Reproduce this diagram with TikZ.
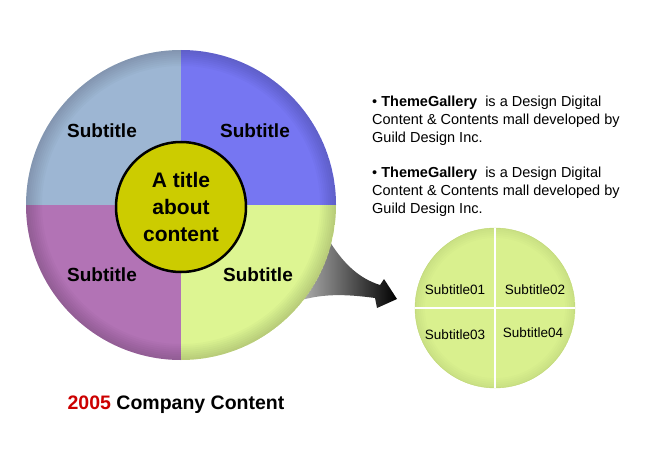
\documentclass[tikz,border=0pt]{standalone}
\usepackage{fontspec}
\setmainfont{Liberation Sans}
\usetikzlibrary{positioning}

\definecolor{SteelQ}{HTML}{9DB6D3}
\definecolor{VioletQ}{HTML}{7676F2}
\definecolor{PurpleQ}{HTML}{B273B5}
\definecolor{LimeQ}{HTML}{DDF592}
\definecolor{LimeS}{HTML}{D9F08E}
\definecolor{LimeEdge}{HTML}{C8E07C}
\definecolor{OliveC}{HTML}{CCCC00}
\definecolor{YearRed}{HTML}{CC0000}

\begin{document}
\begin{tikzpicture}[x=1pt,y=-1pt]
			\tikzstyle{Big}		= [font=\fontsize{19}{21}\selectfont\bfseries]
			\tikzstyle{Title}	= [font=\fontsize{21}{27}\selectfont\bfseries, align=center]
			\tikzstyle{Small}	= [font=\fontsize{13.5}{16}\selectfont]
			\tikzstyle{Note}	= [font=\fontsize{14.5}{18}\selectfont, align=left, anchor=north west, inner sep=0pt]
			\tikzstyle{Rim}		= [black, opacity=0.018]
			\tikzstyle{Split}	= [white, line width=2pt]

			\useasboundingbox (0,0) rectangle (660,465);

			\coordinate (c) at (181,205);

			% arrow, partly hidden by the big circle
			\coordinate (u0) at (322,228);
			\coordinate (u1) at (380,285);
			\coordinate (b1) at (384,279);
			\coordinate (tip) at (397,299);
			\coordinate (b2) at (377,308);
			\coordinate (l1) at (375,298);
			\coordinate (l0) at (292,303);
			\shade[left color=gray!50, right color=black] (u0) .. controls (340,262) and (358,278) .. (u1)
				-- (b1) -- (tip) -- (b2) -- (l1) .. controls (345,294) and (320,293) .. (l0) -- cycle;

			\begin{scope}
				\clip (c) circle (155);
				\fill[SteelQ] (c) rectangle (20,45);
				\fill[VioletQ] (c) rectangle (340,45);
				\fill[PurpleQ] (c) rectangle (20,365);
				\fill[LimeQ] (c) rectangle (340,365);
				\foreach \w in {2,4,...,16}
					\draw[Rim, line width=\w pt] (c) circle (155-\w/2);
			\end{scope}

			\node (q1) at (102,131) [Big] {Subtitle};
			\node (q2) at (255,131) [Big] {Subtitle};
			\node (q3) at (102,275) [Big] {Subtitle};
			\node (q4) at (258,275) [Big] {Subtitle};

			\node (t) at (181,207) [circle, draw, line width=2.5pt, fill=OliveC, minimum size=130pt, inner sep=0pt, Title] {A title\\about\\content};

			\node (sc) at (495,308) [circle, fill=LimeS, draw=LimeEdge, minimum size=160pt, inner sep=0pt] {};
			\begin{scope}
				\clip (sc.center) circle (80);
				\foreach \w in {2,4,...,10}
					\draw[Rim, opacity=0.012, line width=\w pt] (sc.center) circle (80-\w/2);
			\end{scope}
			\draw[Split] (sc.north) -- (sc.south);
			\draw[Split] (sc.west) -- (sc.east);

			\node (s1) at (455,290) [Small] {Subtitle01};
			\node (s2) at (535,290) [Small] {Subtitle02};
			\node (s3) at (455,335) [Small] {Subtitle03};
			\node (s4) at (533,333) [Small] {Subtitle04};

			\node (n1) at (372,96) [Note] {\textbullet\ \textbf{ThemeGallery}\ \ is a Design Digital\\Content \& Contents mall developed by\\Guild Design Inc.};
			\node (n2) at (372,167) [Note] {\textbullet\ \textbf{ThemeGallery}\ \ is a Design Digital\\Content \& Contents mall developed by\\Guild Design Inc.};

			\node (cap) at (176,405) [font=\fontsize{19.5}{22}\selectfont\bfseries] {\textcolor{YearRed}{2005} Company Content};
\end{tikzpicture}
\end{document}
